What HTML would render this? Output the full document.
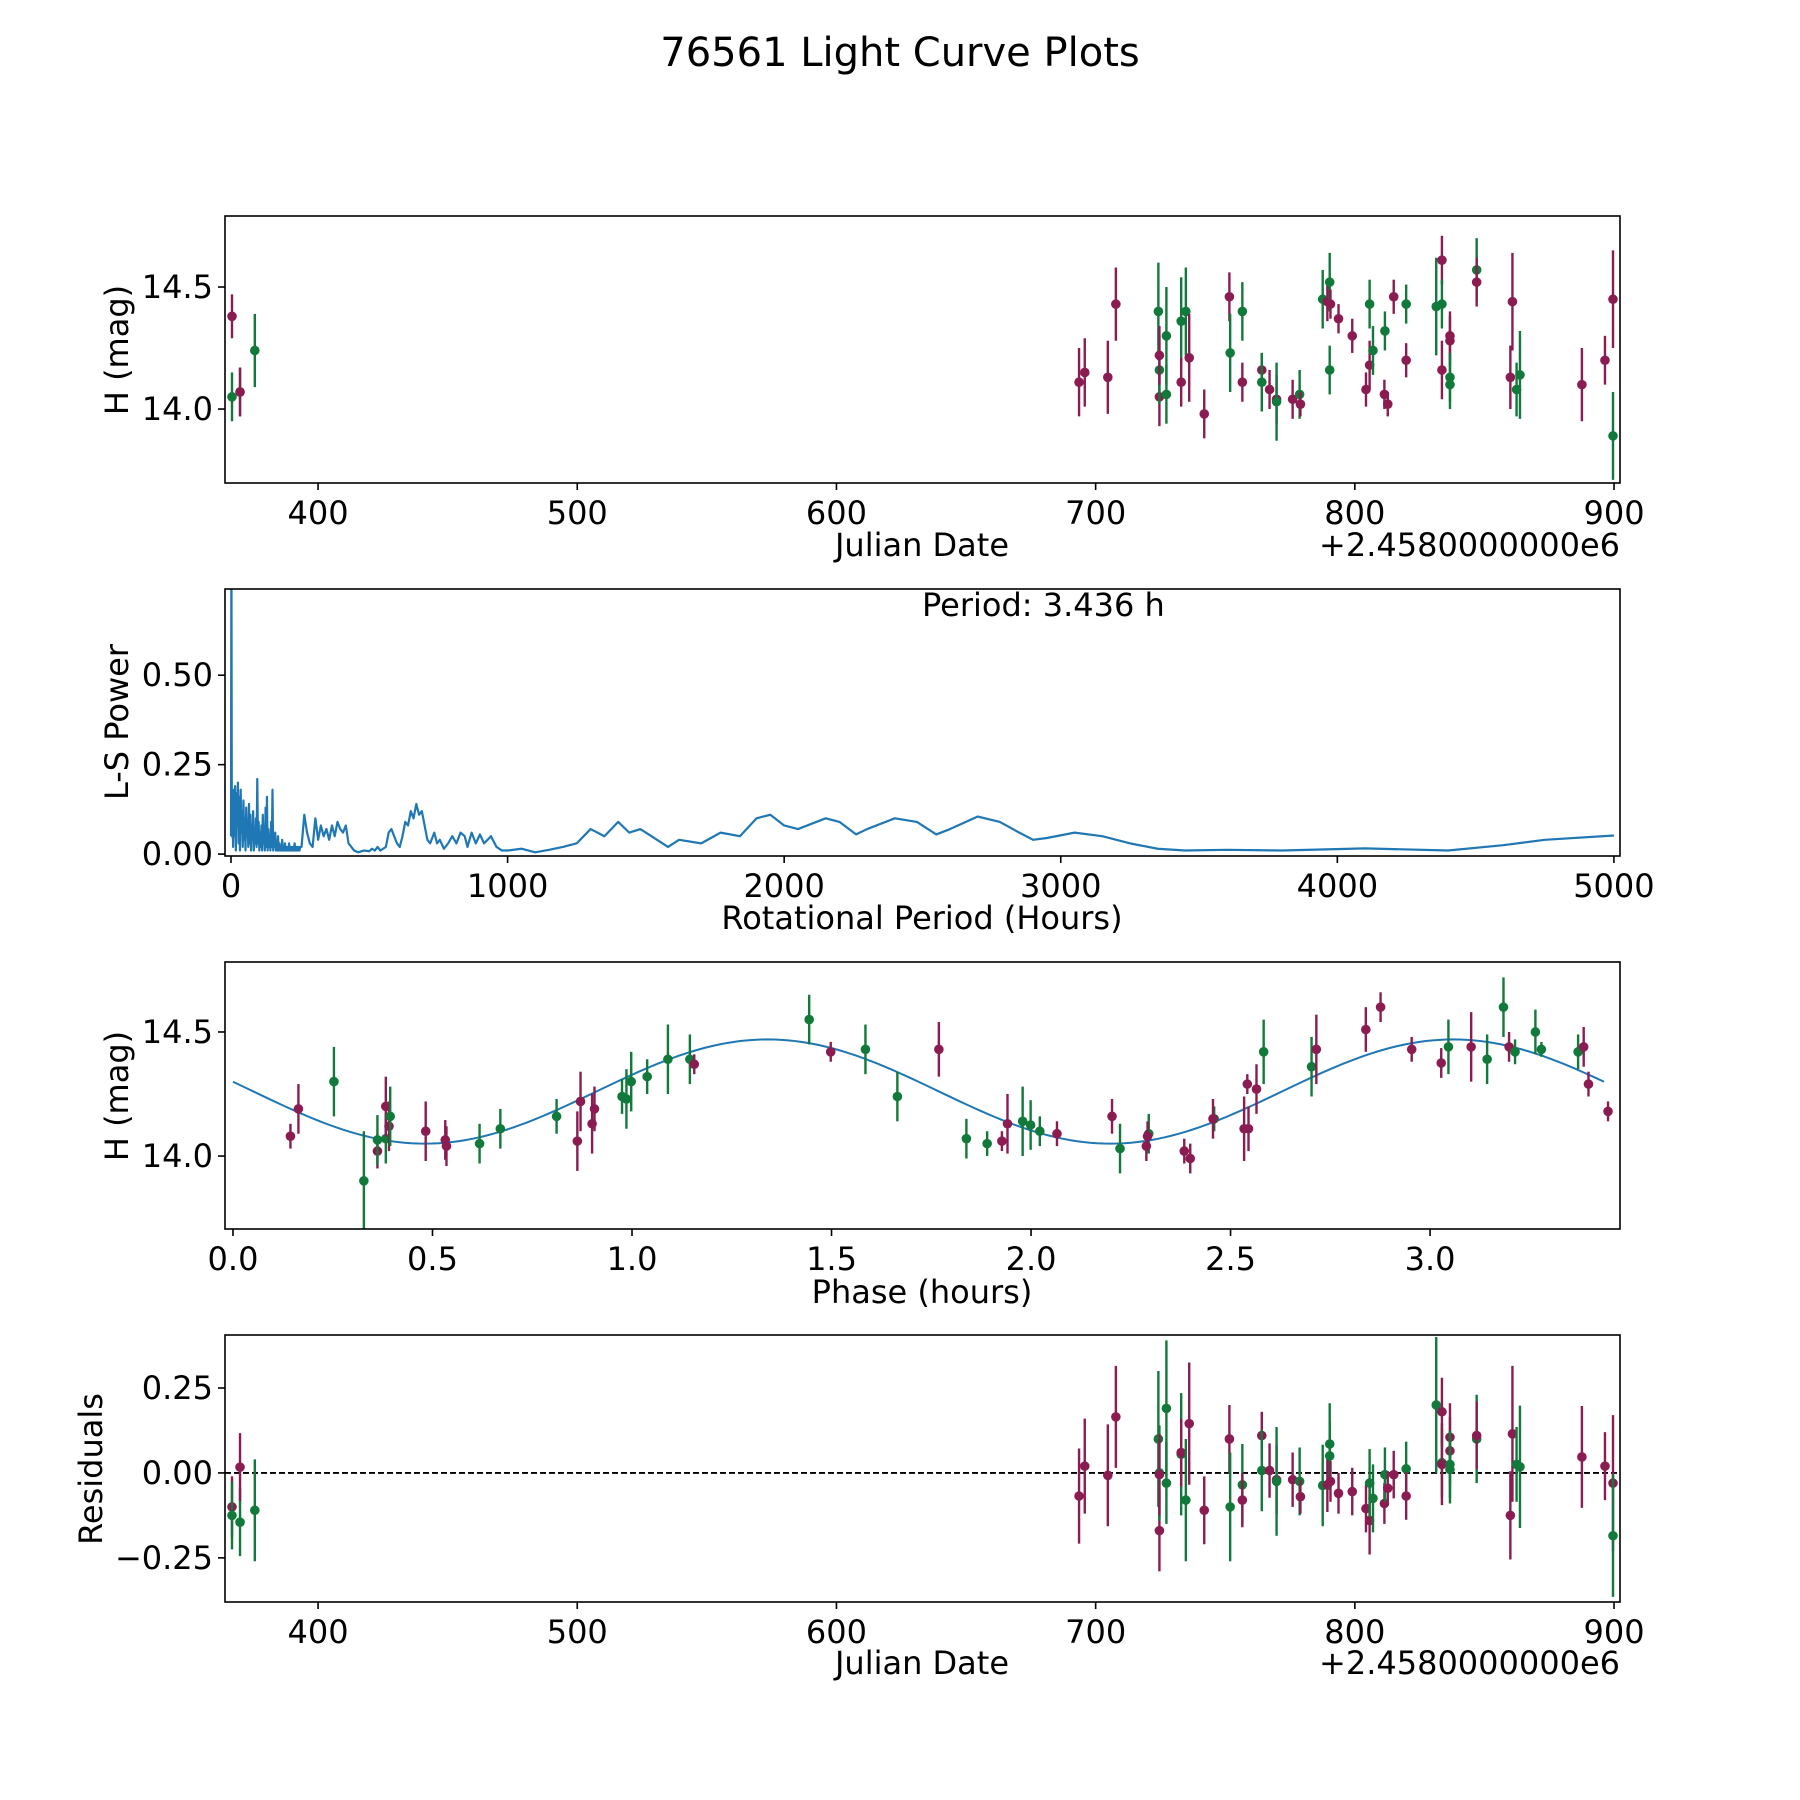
<!DOCTYPE html>
<html><head><meta charset="utf-8"><style>
html,body{margin:0;padding:0;background:#fff;}
svg{display:block;font-family:"DejaVu Sans","Liberation Sans",sans-serif;}
</style></head><body>
<svg id="fig" width="1800" height="1800" viewBox="0 0 1800 1800">
<text x="900" y="66" font-size="40" text-anchor="middle">76561 Light Curve Plots</text>
</svg>
<script>
// ---------- data ----------
const lcDays=[366.8,366.8,369.9,369.9,375.6,693.6,695.8,704.7,707.8,724.2,724.6,724.6,724.6,727.3,727.3,733.0,733.0,734.8,736.1,741.9,751.6,751.9,756.6,756.6,764.1,764.1,767.1,769.8,769.8,776.0,778.7,779.0,787.6,789.4,790.3,790.3,790.6,793.7,799.0,804.3,805.7,805.7,807.0,811.4,811.6,812.7,815.0,819.8,819.8,831.4,833.6,833.6,833.6,836.7,836.7,836.7,836.7,847.0,847.0,860.8,860.0,862.4,863.7,887.6,896.5,899.6,899.6];
const lcBands=["P","G","G","P","G","P","P","P","P","G","P","G","P","G","G","G","P","G","P","P","P","G","G","P","P","G","P","P","G","P","G","P","G","P","G","G","P","P","P","P","P","G","G","P","G","P","P","G","P","G","P","G","P","P","P","G","G","G","P","P","P","G","G","P","P","P","G"];
const lcMags=[14.38,14.05,14.07,14.07,14.24,14.11,14.15,14.13,14.43,14.40,14.05,14.16,14.22,14.30,14.06,14.36,14.11,14.40,14.21,13.98,14.46,14.23,14.40,14.11,14.16,14.11,14.08,14.04,14.03,14.04,14.06,14.02,14.45,14.44,14.16,14.52,14.43,14.37,14.30,14.08,14.18,14.43,14.24,14.06,14.32,14.02,14.46,14.43,14.20,14.42,14.61,14.43,14.16,14.30,14.28,14.13,14.10,14.57,14.52,14.44,14.13,14.08,14.14,14.10,14.20,14.45,13.89];
const lcResid=[-0.10,-0.125,-0.145,0.017,-0.11,-0.068,0.02,-0.007,0.165,0.10,-0.17,0.0,-0.005,0.19,-0.03,0.055,0.06,-0.08,0.145,-0.11,0.10,-0.10,-0.035,-0.08,0.11,0.007,0.007,-0.02,-0.025,-0.02,-0.025,-0.07,-0.037,-0.035,0.05,0.085,-0.025,-0.06,-0.055,-0.105,-0.14,-0.03,-0.075,-0.09,-0.005,-0.045,-0.005,0.012,-0.068,0.2,0.18,0.03,0.025,0.105,0.065,0.025,0.01,0.10,0.11,0.115,-0.125,0.025,0.018,0.047,0.02,-0.03,-0.185];
const lcErrs=[0.09,0.1,0.1,0.1,0.15,0.14,0.14,0.15,0.15,0.2,0.12,0.14,0.12,0.2,0.12,0.18,0.1,0.18,0.18,0.1,0.1,0.16,0.12,0.08,0.07,0.12,0.08,0.1,0.16,0.08,0.1,0.05,0.12,0.08,0.1,0.12,0.06,0.06,0.07,0.07,0.1,0.1,0.1,0.06,0.08,0.05,0.07,0.08,0.07,0.2,0.1,0.1,0.12,0.1,0.1,0.1,0.1,0.13,0.1,0.2,0.13,0.11,0.18,0.15,0.1,0.2,0.18];

const phX=[0.144,0.164,0.253,0.328,0.362,0.362,0.383,0.383,0.391,0.394,0.483,0.532,0.535,0.618,0.67,0.811,0.863,0.871,0.9,0.906,0.975,0.986,0.998,1.038,1.09,1.145,1.156,1.444,1.498,1.585,1.665,1.769,1.838,1.89,1.927,1.941,1.979,1.999,2.022,2.065,2.203,2.223,2.295,2.292,2.289,2.384,2.399,2.459,2.456,2.534,2.545,2.542,2.565,2.583,2.703,2.715,2.839,2.876,2.954,3.028,3.046,3.103,3.143,3.184,3.198,3.213,3.264,3.279,3.371,3.385,3.397,3.446];
const phBands=["P","P","G","G","P","G","G","P","P","G","P","P","P","G","G","G","P","P","P","P","G","G","G","G","G","G","P","G","P","G","G","P","G","G","P","P","G","G","G","P","P","G","G","P","P","P","P","G","P","P","P","P","P","G","G","P","P","P","P","P","G","P","G","G","P","G","G","G","G","P","P","P"];
const phMags=[14.08,14.19,14.30,13.90,14.02,14.065,14.07,14.20,14.12,14.16,14.10,14.065,14.04,14.05,14.11,14.16,14.06,14.22,14.13,14.19,14.24,14.23,14.30,14.32,14.39,14.39,14.37,14.55,14.42,14.43,14.24,14.43,14.07,14.05,14.06,14.13,14.14,14.125,14.10,14.09,14.16,14.03,14.09,14.08,14.04,14.02,13.99,14.15,14.15,14.11,14.11,14.29,14.27,14.42,14.36,14.43,14.51,14.60,14.43,14.375,14.44,14.44,14.39,14.60,14.44,14.42,14.50,14.43,14.42,14.44,14.29,14.18];
const phErrs=[0.05,0.1,0.14,0.2,0.07,0.1,0.1,0.12,0.1,0.12,0.12,0.08,0.08,0.08,0.08,0.07,0.12,0.12,0.12,0.09,0.07,0.12,0.12,0.07,0.14,0.1,0.04,0.1,0.04,0.1,0.1,0.11,0.08,0.05,0.04,0.12,0.14,0.1,0.06,0.05,0.07,0.1,0.08,0.06,0.06,0.05,0.06,0.05,0.08,0.13,0.09,0.04,0.1,0.13,0.12,0.14,0.09,0.06,0.05,0.06,0.11,0.14,0.1,0.12,0.06,0.05,0.09,0.03,0.07,0.08,0.05,0.04];

const fitMean=[14.26], fitAmp=[0.21], fitPeak=[1.34], fitHalfPeriod=[1.718], fitSpan=[3.436];

const lsPeriods=[0,1.5,3,5,7.5,10,12.5,15,17.5,20,22.5,25,27.5,30,32.5,35,37.5,40,42.5,45,47.5,50,52.5,55,57.5,60,62.5,65,67.5,70,72.5,75,77.5,80,82.5,85,87.5,90,92.5,95,97.5,100,102.5,105,107.5,110,112.5,115,117.5,120,122.5,125,127.5,130,132.5,135,137.5,140,142.5,145,147.5,150,152.5,155,157.5,160,162.5,165,167.5,170,172.5,175,177.5,180,182.5,185,187.5,190,192.5,195,197.5,200,202.5,205,207.5,210,212.5,215,217.5,220,222.5,225,227.5,230,232.5,235,237.5,240,242.5,245,247.5,250,255,265,275,285,295,305,315,325,335,345,355,365,375,385,395,405,415,425,435,445,460,480,500,510,520,530,540,550,560,570,580,590,600,610,620,630,640,650,660,670,680,690,700,710,720,735,745,755,770,785,800,815,830,845,855,870,885,900,915,940,960,980,1000,1050,1100,1150,1200,1250,1300,1350,1400,1440,1480,1520,1580,1620,1700,1770,1840,1900,1950,2000,2050,2150,2200,2260,2300,2400,2480,2550,2600,2700,2780,2850,2900,2950,3050,3150,3250,3350,3450,3600,3800,4100,4400,4600,4750,5000];
const lsPowers=[0.05,0.9,0.05,0.15,0.02,0.18,0.05,0.19,0.01,0.17,0.08,0.2,0.03,0.16,0.01,0.18,0.06,0.12,0.02,0.15,0.04,0.1,0.01,0.13,0.05,0.09,0.02,0.14,0.03,0.11,0.01,0.08,0.04,0.12,0.01,0.07,0.03,0.1,0.02,0.21,0.03,0.09,0.01,0.06,0.02,0.08,0.01,0.11,0.03,0.05,0.01,0.13,0.02,0.16,0.01,0.07,0.02,0.05,0.01,0.09,0.02,0.18,0.01,0.04,0.02,0.06,0.01,0.03,0.01,0.05,0.01,0.03,0.01,0.02,0.01,0.04,0.01,0.02,0.01,0.03,0.01,0.02,0.01,0.02,0.01,0.03,0.01,0.02,0.01,0.02,0.01,0.02,0.01,0.03,0.01,0.02,0.01,0.02,0.01,0.02,0.01,0.02,0.02,0.11,0.06,0.03,0.02,0.1,0.04,0.08,0.05,0.07,0.04,0.08,0.05,0.09,0.07,0.06,0.08,0.03,0.02,0.01,0.005,0.01,0.008,0.015,0.01,0.02,0.01,0.015,0.02,0.06,0.07,0.05,0.03,0.02,0.05,0.09,0.08,0.12,0.10,0.14,0.11,0.12,0.08,0.04,0.03,0.06,0.03,0.04,0.015,0.03,0.05,0.03,0.06,0.05,0.02,0.06,0.03,0.055,0.03,0.05,0.02,0.01,0.01,0.015,0.005,0.012,0.02,0.03,0.07,0.05,0.09,0.06,0.07,0.05,0.02,0.04,0.03,0.06,0.05,0.10,0.11,0.08,0.07,0.10,0.09,0.055,0.07,0.10,0.09,0.055,0.07,0.105,0.09,0.06,0.04,0.045,0.06,0.05,0.03,0.015,0.01,0.012,0.01,0.016,0.01,0.025,0.04,0.052];

const jdTicks=[400,500,600,700,800,900];
const magTicks=[14.0,14.5];
const lsXTicks=[0,1000,2000,3000,4000,5000];
const lsYTicks=[0.00,0.25,0.50];
const phXTicks=[0.0,0.5,1.0,1.5,2.0,2.5,3.0];
const resTicks=[-0.25,0.00,0.25];

// ---------- helpers ----------
const NS="http://www.w3.org/2000/svg";
const svg=document.getElementById('fig');
const COL={P:"#8b1c52",G:"#117a3a"};
const FS=32;
function mk(tag,attrs,parent){const e=document.createElementNS(NS,tag);for(const k in attrs)e.setAttribute(k,attrs[k]);(parent||svg).appendChild(e);return e;}
function scale(d0,d1,r0,r1){return v=>r0+(v-d0)/(d1-d0)*(r1-r0);}
const L=225,R=1620;
function panel(name,top,bot,xd,yd){
  const g=mk('g',{});
  
  
  const clipId='clip-'+name;
  const cp=mk('clipPath',{id:clipId},g);
  mk('rect',{x:L,y:top,width:R-L,height:bot-top},cp);
  const plot=mk('g',{'clip-path':'url(#'+clipId+')'},g);
  
  
  return {g,plot,top,bot,x:scale(xd[0],xd[1],L,R),y:scale(yd[0],yd[1],bot,top)};
}
function frame(p,xt,xfmt,yt,yfmt){
  const fr=mk('rect',{x:L,y:p.top,width:R-L,height:p.bot-p.top,fill:'none',stroke:'#000','stroke-width':1.6},p.g);
  
  
  xt.forEach(v=>{const X=p.x(v);
    mk('line',{x1:X,x2:X,y1:p.bot,y2:p.bot+7,stroke:'#000','stroke-width':1.6},p.g);
    const t=mk('text',{x:X,y:p.bot+41,'font-size':FS,'text-anchor':'middle'},p.g);t.textContent=xfmt(v);
    
    });
  yt.forEach(v=>{const Y=p.y(v);
    mk('line',{x1:L-7,x2:L,y1:Y,y2:Y,stroke:'#000','stroke-width':1.6},p.g);
    const t=mk('text',{x:L-12,y:Y+11,'font-size':FS,'text-anchor':'end'},p.g);t.textContent=yfmt(v);
    
    });
}
function label(p,txt,x,y,rot,name,anchor){
  const t=mk('text',{x,y,'font-size':FS,'text-anchor':anchor||'middle'},p.g);
  if(rot)t.setAttribute('transform','rotate(-90 '+x+' '+y+')');
  t.textContent=txt;
  
  
}
function errPoints(p,xs,ys,es,bands,name){
  xs.forEach((xv,i)=>{
    const c=COL[bands[i]],X=p.x(xv);
    const ln=mk('line',{x1:X,x2:X,y1:p.y(ys[i]-es[i]),y2:p.y(ys[i]+es[i]),stroke:c,'stroke-width':2.4},p.plot);
    
    
    const d=mk('circle',{cx:X,cy:p.y(ys[i]),r:4.8,fill:c},p.plot);
    
    
  });
}
const f1=v=>v.toFixed(1), f0=v=>String(v), f2=v=>(v<0?'\u2212':'')+Math.abs(v).toFixed(2);

// ---------- panel 1: light curve ----------
const p1=panel('light-curve-panel',216,483,[364.1,902.3],[13.697,14.791]);
errPoints(p1,lcDays,lcMags,lcErrs,lcBands,'magnitude');
frame(p1,jdTicks,f0,magTicks,f1);
label(p1,'H (mag)',128,350,true,'y-axis-title');
label(p1,'Julian Date',922,556,false,'x-axis-title');
label(p1,'+2.4580000000e6',1620,556,false,'x-offset-text','end');

// ---------- panel 2: periodogram ----------
const p2=panel('periodogram-panel',589,856,[-21.7,5022],[-0.0053,0.741]);
const pl=mk('polyline',{points:lsPeriods.map((v,i)=>p2.x(v)+','+p2.y(lsPowers[i])).join(' '),fill:'none',stroke:'#1f77b4','stroke-width':2.2,'stroke-linejoin':'round'},p2.plot);


frame(p2,lsXTicks,f0,lsYTicks,f2);
label(p2,'L-S Power',128,722,true,'y-axis-title');
label(p2,'Rotational Period (Hours)',922,929,false,'x-axis-title');
label(p2,'Period: 3.436 h',922,616,false,'period-annotation','start');

// ---------- panel 3: phase-folded ----------
const p3=panel('phase-folded-panel',962,1229,[-0.02,3.476],[13.706,14.782]);
const N=200,pts=[];
for(let i=0;i<=N;i++){const ph=fitSpan[0]*i/N;pts.push(p3.x(ph)+','+p3.y(fitMean[0]+fitAmp[0]*Math.cos(2*Math.PI*(ph-fitPeak[0])/fitHalfPeriod[0])));}
const fl=mk('polyline',{points:pts.join(' '),fill:'none',stroke:'#1f77b4','stroke-width':2},p3.plot);


errPoints(p3,phX,phMags,phErrs,phBands,'phase');
frame(p3,phXTicks,f1,magTicks,f1);
label(p3,'H (mag)',128,1096,true,'y-axis-title');
label(p3,'Phase (hours)',922,1303,false,'x-axis-title');

// ---------- panel 4: residuals ----------
const p4=panel('residuals-panel',1335,1602,[364.1,902.3],[-0.380,0.406]);
const zl=mk('line',{x1:L,x2:R,y1:p4.y(0),y2:p4.y(0),stroke:'#000','stroke-width':1.8,'stroke-dasharray':'6,3'},p4.plot);


errPoints(p4,lcDays,lcResid,lcErrs,lcBands,'residual');
frame(p4,jdTicks,f0,resTicks,f2);
label(p4,'Residuals',102,1469,true,'y-axis-title');
label(p4,'Julian Date',922,1674,false,'x-axis-title');
label(p4,'+2.4580000000e6',1620,1674,false,'x-offset-text','end');
</script>
</body></html>
